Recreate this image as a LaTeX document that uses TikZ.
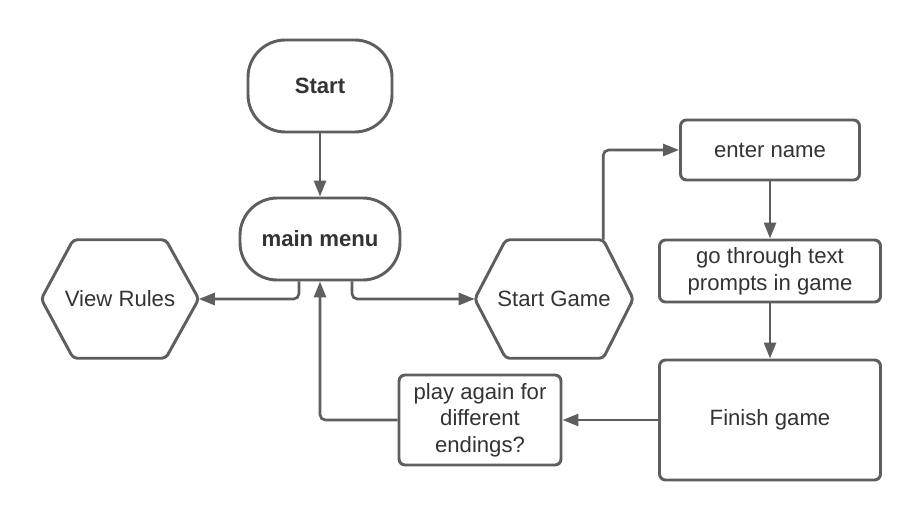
\documentclass[tikz,border=0pt]{standalone}
\usepackage{fontspec}
\setmainfont{Liberation Sans}
\usetikzlibrary{arrows.meta,calc}
\definecolor{strokec}{HTML}{5E5E5E}
\definecolor{textc}{HTML}{333333}
\tikzset{
  lbl/.style={text=textc,font=\fontsize{16.6}{20}\selectfont,align=center,inner sep=0pt},
  boxshape/.style={lbl,draw=strokec,line width=2.2pt,rounded corners=4.5pt,fill=white},
  pill/.style={lbl,draw=strokec,line width=2.2pt,rounded corners=28pt,fill=white,font=\fontsize{16.6}{20}\selectfont\bfseries},
  hexholder/.style={lbl},
  hexline/.style={draw=strokec,line width=2.2pt,rounded corners=3pt},
  conn/.style={draw=strokec,line width=2pt,rounded corners=4pt,-{Triangle[length=12pt,width=9pt]}},
  plain/.style={draw=strokec,line width=2pt,rounded corners=4pt}
}
\begin{document}
\begin{tikzpicture}[x=0.75pt,y=-0.75pt]
\useasboundingbox (0,0) rectangle (920,520);
% nodes
\node[pill,minimum width=108pt,minimum height=69pt] (start) at (320,86) {Start};
\node[pill,minimum width=120pt,minimum height=61.5pt] (menu) at (320,239) {main menu};
\node[hexholder,minimum width=117.75pt,minimum height=88.5pt] (vr) at (120,299) {View Rules};
\node[hexholder,minimum width=118.5pt,minimum height=88.5pt] (sg) at (554,299) {Start Game};
\node[boxshape,minimum width=134.25pt,minimum height=45pt] (en) at (770,150) {enter name};
\node[boxshape,minimum width=165.75pt,minimum height=46.5pt] (gt) at (770,271) {go through text\\prompts in game};
\node[boxshape,minimum width=165.75pt,minimum height=90pt] (fg) at (770,420) {Finish game};
\node[boxshape,minimum width=121.5pt,minimum height=67.5pt] (pa) at (480,420) {play again for\\different\\endings?};
% hexagon outlines
\draw[hexline] (vr.west) -- ($(vr.north west)+(32,0)$) -- ($(vr.north east)+(-33,0)$) -- (vr.east)
  -- ($(vr.south east)+(-33,0)$) -- ($(vr.south west)+(32,0)$) -- cycle;
\draw[hexline] (sg.west) -- ($(sg.north west)+(31,0)$) -- ($(sg.north east)+(-30,0)$) -- (sg.east)
  -- ($(sg.south east)+(-30,0)$) -- ($(sg.south west)+(31,0)$) -- cycle;
\coordinate (sgtop) at ($(sg.north east)+(-30,0)$);
% connectors
\draw[conn] (start) -- (menu);
\draw[conn] ($(menu.south)+(-21,0)$) |- (vr.east);
\draw[conn] ($(menu.south)+(32,0)$) |- (sg.west);
\draw[conn] (sgtop) |- (en.west);
\draw[conn] (en) -- (gt);
\draw[conn] (gt) -- (fg);
\draw[conn] (fg.west) -- (pa.east);
\draw[conn] (pa.west) -| (menu.south);
\end{tikzpicture}
\end{document}
